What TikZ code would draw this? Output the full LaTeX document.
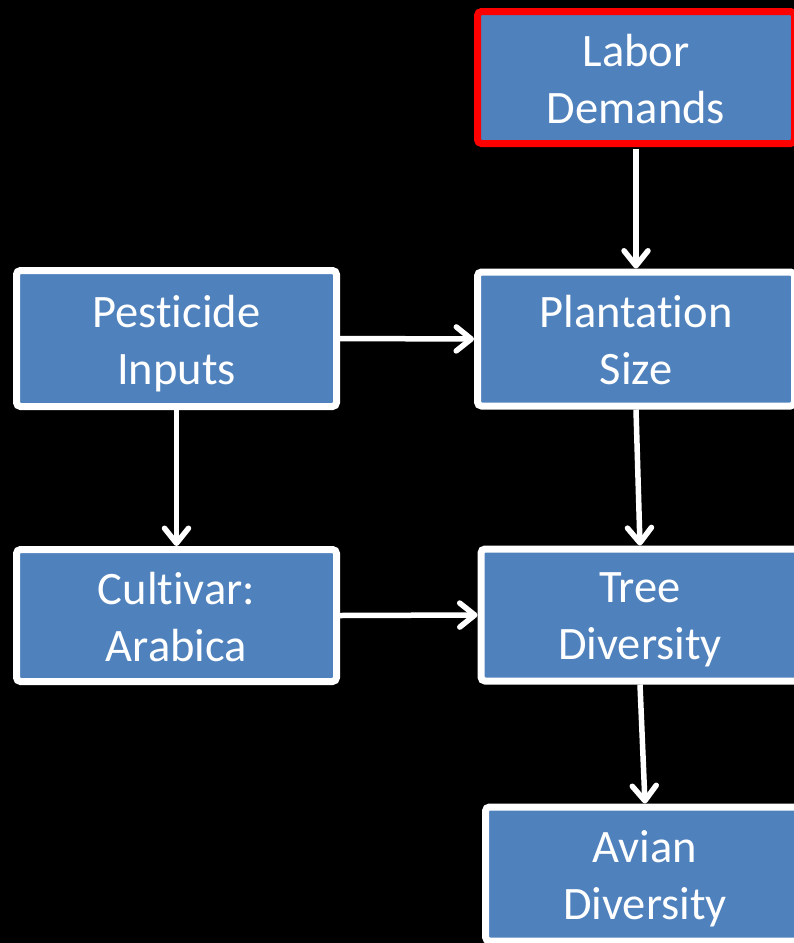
\documentclass[tikz,border=0pt]{standalone}
\usepackage{fontspec}
\setmainfont{Carlito}[Ligatures=NoCommon]
\usetikzlibrary{arrows.meta}
\definecolor{boxblue}{HTML}{4F81BD}
\definecolor{alertred}{HTML}{FF0000}
\tikzset{
  factor/.style={draw=white, line width=7pt, fill=boxblue, rounded corners=4pt,
    inner sep=0pt},
  caption/.style={text=white, align=center, inner sep=0pt,
    font=\fontsize{46.5}{57}\selectfont, yshift=-5pt,
    execute at end node=\vphantom{y}},
  flow/.style={draw=white, line width=5.5pt,
    -{Straight Barb[length=15pt,width=24pt,round]}}
}
\begin{document}
\begin{tikzpicture}[x=1pt,y=-1pt]
  % black page
  \path[use as bounding box, fill=black] (0,0) rectangle (794,943);

  % factor boxes
  \node[factor, minimum width=320pt, minimum height=136pt] (pest)  at (176.5,338.5) {};
  \node[factor, minimum width=320pt, minimum height=132pt] (cult)  at (176.5,615.5) {};
  \node[factor, draw=alertred, minimum width=317pt, minimum height=132pt] (labor) at (636,77.5) {};
  \node[factor, minimum width=317pt, minimum height=134pt] (plant) at (636,339) {};
  \node[factor, minimum width=318pt, minimum height=132pt] (tree)  at (640,615) {};
  \node[factor, minimum width=319pt, minimum height=134pt] (avian) at (645,874) {};

  % box captions
  \node[caption] (pestT)  at (pest)  {Pesticide\\Inputs};
  \node[caption] (cultT)  at (cult)  {Cultivar:\\Arabica};
  \node[caption] (laborT) at (labor) {Labor\\Demands};
  \node[caption] (plantT) at (plant) {Plantation\\Size};
  \node[caption] (treeT)  at (tree)  {Tree\\Diversity};
  \node[caption] (avianT) at (avian) {Avian\\Diversity};

  % causal links
  \draw[flow, shorten <=1.5pt] (labor.south) -- (plant.north);
  \draw[flow] (pest.east) -- (plant.west);
  \draw[flow] (pest.south) -- (cult.north);
  \draw[flow] (plant.south) -- (tree.north);
  \draw[flow] (cult.east) -- (tree.west);
  \draw[flow] (tree.south) -- (avian.north);
\end{tikzpicture}
\end{document}
